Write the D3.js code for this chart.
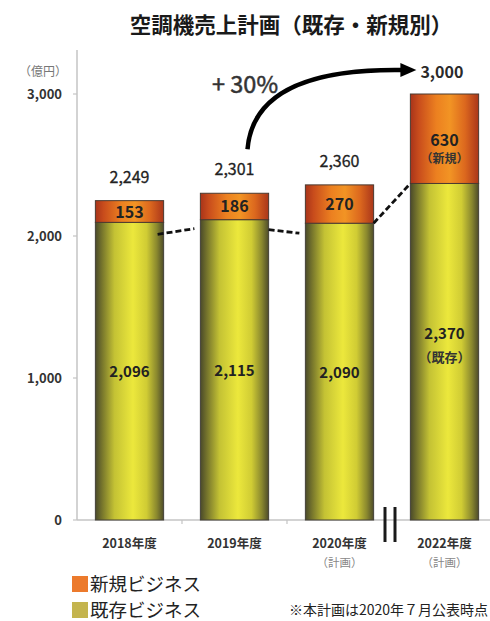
<!DOCTYPE html>
<html>
<head>
<meta charset="utf-8">
<script src="https://cdn.jsdelivr.net/npm/d3@7"></script>
<style>
  body { margin: 0; background: #fff; }
  svg { display: block; font-family: "Noto Sans CJK JP", "Noto Sans", sans-serif; }
</style>
</head>
<body>
<svg id="chart"></svg>
<script>
const categories = ["2018年度", "2019年度", "2020年度", "2022年度"];
const subLabels = ["", "", "（計画）", "（計画）"];
const existing = [2096, 2115, 2090, 2370];
const newBiz = [153, 186, 270, 630];
const totals = [2249, 2301, 2360, 3000];
const yTicks = [0, 1000, 2000, 3000];

const W = 490, H = 621;
const svg = d3.select("#chart").attr("width", W).attr("height", H);

const x = d3.scaleBand()
  .domain(categories)
  .range([77, 497])
  .paddingInner(0.35)
  .paddingOuter(0.175);

const y = d3.scaleLinear().domain([0, 3000]).range([520, 94]);

// gradients (cylinder look)
const defs = svg.append("defs");
function cylinder(id, stops) {
  const g = defs.append("linearGradient").attr("id", id)
    .attr("x1", "0%").attr("x2", "100%").attr("y1", "0%").attr("y2", "0%");
  stops.forEach(([o, c]) => g.append("stop").attr("offset", o).attr("stop-color", c));
}
cylinder("gYellow", [
  ["0%", "#4a4a2a"], ["10%", "#77762c"], ["28%", "#c4c234"],
  ["55%", "#ece83c"], ["75%", "#d0cc34"], ["90%", "#8a882e"], ["100%", "#4e4c2a"]
]);
cylinder("gOrange", [
  ["0%", "#a8341a"], ["12%", "#c84c1c"], ["38%", "#ec8020"],
  ["58%", "#f29424"], ["80%", "#dc681e"], ["100%", "#aa361a"]
]);

// title
svg.append("text")
  .attr("x", 291).attr("y", 33)
  .attr("text-anchor", "middle")
  .attr("font-size", 21.5).attr("font-weight", "bold").attr("fill", "#1a1a1a")
  .text("空調機売上計画（既存・新規別）");

// y axis
svg.append("line")
  .attr("x1", 77).attr("x2", 77).attr("y1", 50).attr("y2", 520)
  .attr("stroke", "#c4c4c4").attr("stroke-width", 1.5);

const yAxis = svg.append("g");
yAxis.selectAll("line").data(yTicks).join("line")
  .attr("x1", 73).attr("x2", 77)
  .attr("y1", d => y(d)).attr("y2", d => y(d))
  .attr("stroke", "#c4c4c4").attr("stroke-width", 1.2);
yAxis.selectAll("text").data(yTicks).join("text")
  .attr("x", 62).attr("y", d => y(d) + 5)
  .attr("text-anchor", "end")
  .attr("font-size", 13).attr("font-weight", "bold").attr("fill", "#333")
  .text(d => d3.format(",")(d));

svg.append("text")
  .attr("x", 43).attr("y", 76)
  .attr("text-anchor", "middle")
  .attr("font-size", 12).attr("fill", "#777")
  .text("（億円）");

// baseline + category boundary ticks
svg.append("line")
  .attr("x1", 77).attr("x2", 497).attr("y1", y(0)).attr("y2", y(0))
  .attr("stroke", "#c4c4c4").attr("stroke-width", 1.5);
svg.selectAll("line.ctick").data(categories.slice(1, 3)).join("line")
  .attr("class", "ctick")
  .attr("x1", d => x(d) - x.step() * x.paddingInner() / 2)
  .attr("x2", d => x(d) - x.step() * x.paddingInner() / 2)
  .attr("y1", y(0)).attr("y2", y(0) + 4)
  .attr("stroke", "#c4c4c4").attr("stroke-width", 1.2);

// bars
const bars = svg.append("g").selectAll("g").data(categories).join("g");
bars.append("rect")
  .attr("x", d => x(d)).attr("width", x.bandwidth())
  .attr("y", (d, i) => y(existing[i]))
  .attr("height", (d, i) => y(0) - y(existing[i]))
  .attr("fill", "url(#gYellow)")
  .attr("stroke", "#444038").attr("stroke-width", 1);
bars.append("rect")
  .attr("x", d => x(d)).attr("width", x.bandwidth())
  .attr("y", (d, i) => y(existing[i] + newBiz[i]))
  .attr("height", (d, i) => y(existing[i]) - y(existing[i] + newBiz[i]))
  .attr("fill", "url(#gOrange)")
  .attr("stroke", "#4a3a30").attr("stroke-width", 1);

// dashed connectors between existing parts
const conn = svg.append("g");
d3.range(3).forEach(i => {
  const last = i === 2;
  const off = last ? 0 : 10;
  const x1 = x(categories[i]) + x.bandwidth() - (i === 0 ? 6 : 0);
  const x2 = x(categories[i + 1]) - (last ? 0 : 6);
  conn.append("line")
    .attr("x1", x1).attr("y1", y(existing[i]) + off + (i === 0 ? 2 : 0))
    .attr("x2", x2).attr("y2", y(existing[i + 1]) + off - (i === 0 ? 1 : 0))
    .attr("stroke", "#111").attr("stroke-width", 2.8)
    .attr("stroke-dasharray", "6,3");
});

// value labels
const fmt = d3.format(",");
bars.append("text")
  .attr("x", d => x(d) + x.bandwidth() / 2)
  .attr("y", (d, i) => i === 3 ? y(existing[i]) + (y(0) - y(existing[i])) / 2 - 13
    : y(existing[i]) + (y(0) - y(existing[i])) / 2 + 6)
  .attr("text-anchor", "middle")
  .attr("font-size", 15).attr("font-weight", "bold").attr("fill", "#222")
  .text((d, i) => fmt(existing[i]));
bars.filter((d, i) => i === 3).append("text")
  .attr("x", d => x(d) + x.bandwidth() / 2)
  .attr("y", y(existing[3]) + (y(0) - y(existing[3])) / 2 + 10)
  .attr("text-anchor", "middle")
  .attr("font-size", 13).attr("font-weight", "bold").attr("fill", "#333")
  .text("（既存）");

bars.append("text")
  .attr("x", d => x(d) + x.bandwidth() / 2)
  .attr("y", (d, i) => {
    const mid = (y(existing[i]) + y(existing[i] + newBiz[i])) / 2;
    return i === 3 ? mid + 7 : mid + 6;
  })
  .attr("text-anchor", "middle")
  .attr("font-size", 16).attr("font-weight", "bold").attr("fill", "#222")
  .text((d, i) => newBiz[i]);
bars.filter((d, i) => i === 3).append("text")
  .attr("x", d => x(d) + x.bandwidth() / 2)
  .attr("y", (y(existing[3]) + y(totals[3])) / 2 + 24)
  .attr("text-anchor", "middle")
  .attr("font-size", 12).attr("font-weight", "bold").attr("fill", "#333")
  .text("（新規）");

// totals above bars
bars.filter((d, i) => i < 3).append("text")
  .attr("x", d => x(d) + x.bandwidth() / 2)
  .attr("y", (d, i) => y(totals[i]) - 18)
  .attr("text-anchor", "middle")
  .attr("font-size", 16).attr("fill", "#222")
  .attr("stroke", "#222").attr("stroke-width", 0.3)
  .text((d, i) => fmt(totals[i]));

svg.append("text")
  .attr("x", x(categories[3]) + 10).attr("y", y(totals[3]) - 16)
  .attr("font-size", 16).attr("font-weight", "bold").attr("fill", "#2a2a2a")
  .text(fmt(totals[3]));

// growth arrow
const ax0 = x(categories[1]) + x.bandwidth() / 2 + 13;
const ax1 = x(categories[3]) + 2;
const ay1 = y(totals[3]) - 24;
svg.append("path")
  .attr("d", `M${ax0},${y(totals[1]) - 44} C${ax0 + 4},${ay1 + 30} ${ax0 + 48},${ay1 - 2} ${ax1 - 8},${ay1}`)
  .attr("fill", "none").attr("stroke", "#000").attr("stroke-width", 4.5);
svg.append("path")
  .attr("d", `M${ax1 - 12},${ay1 - 7} L${ax1 + 4},${ay1} L${ax1 - 12},${ay1 + 7} Z`)
  .attr("fill", "#000");

svg.append("text")
  .attr("x", 212).attr("y", 93)
  .attr("font-size", 23.5).attr("fill", "#333")
  .attr("stroke", "#333").attr("stroke-width", 0.5)
  .text("+ 30%");

// x labels
const xl = svg.append("g");
xl.selectAll("text.cat").data(categories).join("text")
  .attr("class", "cat")
  .attr("x", d => x(d) + x.bandwidth() / 2).attr("y", 548)
  .attr("text-anchor", "middle")
  .attr("font-size", 12.5).attr("font-weight", "bold").attr("fill", "#333")
  .text(d => d);
xl.selectAll("text.sub").data(subLabels).join("text")
  .attr("class", "sub")
  .attr("x", (d, i) => x(categories[i]) + x.bandwidth() / 2).attr("y", 567)
  .attr("text-anchor", "middle")
  .attr("font-size", 11.5).attr("fill", "#888")
  .text(d => d);

// axis break marks
[385, 395].forEach(bx => svg.append("line")
  .attr("x1", bx).attr("x2", bx).attr("y1", 507).attr("y2", 542)
  .attr("stroke", "#1a1a1a").attr("stroke-width", 3));

// legend
const legend = [["新規ビジネス", "#ec7a2c"], ["既存ビジネス", "#c4b44e"]];
const lg = svg.append("g").selectAll("g").data(legend).join("g")
  .attr("transform", (d, i) => `translate(72, ${576 + i * 26})`);
lg.append("rect").attr("width", 16).attr("height", 16).attr("fill", d => d[1]);
lg.append("text")
  .attr("x", 18).attr("y", 14.5)
  .attr("font-size", 18.5).attr("fill", "#222")
  .text(d => d[0]);

svg.append("text")
  .attr("x", 488).attr("y", 615)
  .attr("text-anchor", "end")
  .attr("font-size", 14).attr("fill", "#222")
  .text("※本計画は2020年７月公表時点");
</script>
</body>
</html>
